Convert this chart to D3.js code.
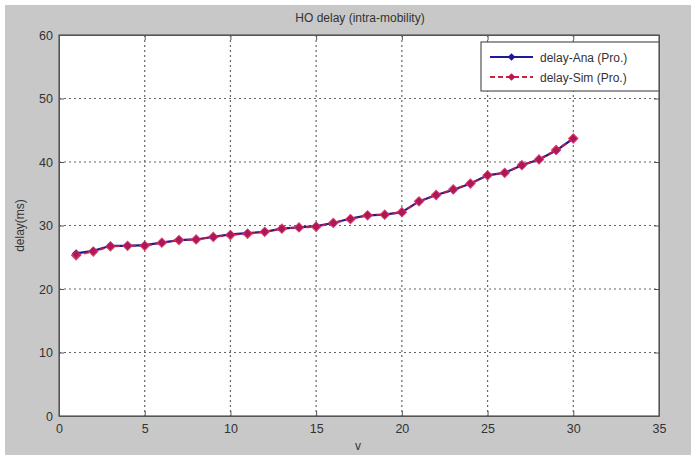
<!DOCTYPE html>
<html>
<head>
<meta charset="utf-8">
<script src="https://cdn.jsdelivr.net/npm/d3@7"></script>
<style>
  html, body { margin: 0; padding: 0; background: #ffffff; }
  svg { display: block; font-family: "Liberation Sans", Arial, sans-serif; }
</style>
</head>
<body>
<svg id="chart" width="691" height="455"></svg>
<script>
// Handover delay vs. velocity, analytical and simulated results
const velocity = [1,2,3,4,5,6,7,8,9,10,11,12,13,14,15,16,17,18,19,20,21,22,23,24,25,26,27,28,29,30];
const delayAna = [25.6,26.0,26.8,26.8,26.9,27.3,27.7,27.8,28.2,28.6,28.8,29.0,29.5,29.7,29.9,30.4,31.1,31.6,31.7,32.1,33.8,34.8,35.6,36.6,37.9,38.3,39.5,40.4,41.8,43.7];
const delaySim = [25.3,25.9,26.7,26.8,26.8,27.3,27.7,27.8,28.2,28.5,28.7,29.0,29.5,29.7,29.8,30.4,31.0,31.6,31.7,32.1,33.8,34.8,35.7,36.6,37.9,38.3,39.5,40.4,41.9,43.7];
const xTicks = [0,5,10,15,20,25,30,35];
const yTicks = [0,10,20,30,40,50,60];
const seriesNames = ["delay-Ana (Pro.)", "delay-Sim (Pro.)"];

const svg = d3.select("#chart");
const W = 691, H = 455;
const m = { left: 59, right: 32, top: 35, bottom: 39 };
const pw = W - m.left - m.right, ph = H - m.top - m.bottom;

// figure background
svg.append("rect").attr("x", 5).attr("y", 5).attr("width", W - 5).attr("height", H - 5).attr("fill", "#c8c8c8");

const x = d3.scaleLinear().domain([0, 35]).range([m.left, m.left + pw]);
const y = d3.scaleLinear().domain([0, 60]).range([m.top + ph, m.top]);

svg.append("rect").attr("x", m.left).attr("y", m.top).attr("width", pw).attr("height", ph).attr("fill", "#ffffff");

// grid
const grid = svg.append("g").attr("stroke", "#333").attr("stroke-width", 1.2).attr("stroke-dasharray", "2,3").attr("opacity", 0.75);
xTicks.slice(1, -1).forEach(t => grid.append("line").attr("x1", x(t)).attr("x2", x(t)).attr("y1", m.top).attr("y2", m.top + ph));
yTicks.slice(1, -1).forEach(t => grid.append("line").attr("y1", y(t)).attr("y2", y(t)).attr("x1", m.left).attr("x2", m.left + pw));

// axes with inward ticks
svg.append("g").attr("transform", `translate(0,${m.top + ph})`)
  .call(d3.axisBottom(x).tickValues(xTicks).tickSizeInner(-5).tickSizeOuter(0).tickPadding(8));
svg.append("g").attr("transform", `translate(${m.left},0)`)
  .call(d3.axisLeft(y).tickValues(yTicks).tickSizeInner(-5).tickSizeOuter(0).tickPadding(6));
svg.append("g").attr("transform", `translate(0,${m.top})`)
  .call(d3.axisTop(x).tickValues(xTicks).tickSizeInner(-5).tickSizeOuter(0).tickFormat(""));
svg.append("g").attr("transform", `translate(${m.left + pw},0)`)
  .call(d3.axisRight(y).tickValues(yTicks).tickSizeInner(-5).tickSizeOuter(0).tickFormat(""));
svg.selectAll(".domain, .tick line").attr("stroke", "#555");
svg.selectAll(".tick text").attr("fill", "#333").attr("font-size", 12.5).attr("font-family", "Liberation Sans, Arial, sans-serif");

svg.append("rect").attr("x", m.left).attr("y", m.top).attr("width", pw).attr("height", ph)
  .attr("fill", "none").attr("stroke", "#555").attr("stroke-width", 1.2);

// titles
svg.append("text").attr("x", 360).attr("y", 22).attr("text-anchor", "middle").attr("font-size", 12).attr("fill", "#333").text("HO delay (intra-mobility)");
svg.append("text").attr("x", 358).attr("y", 450).attr("text-anchor", "middle").attr("font-size", 12).attr("fill", "#333").text("v");
svg.append("text").attr("transform", `translate(24,${y(30)}) rotate(-90)`).attr("text-anchor", "middle").attr("font-size", 12).attr("fill", "#333").text("delay(ms)");

// diamond markers (rotated squares)
const marker = d3.symbol().type(d3.symbolSquare);
const line = d3.line().x((d, i) => x(velocity[i])).y(d => y(d));

// analytical series
svg.append("path").datum(delayAna).attr("d", line).attr("fill", "none").attr("stroke", "#1a1a9a").attr("stroke-width", 2.2);
svg.append("g").selectAll("path").data(delayAna).join("path")
  .attr("transform", (d, i) => `translate(${x(velocity[i])},${y(d)}) rotate(45)`)
  .attr("d", marker.size(36)).attr("fill", "#1a1a9a");

// simulated series
svg.append("path").datum(delaySim).attr("d", line).attr("fill", "none").attr("stroke", "#d0203a").attr("stroke-width", 2).attr("stroke-dasharray", "5,3").attr("opacity", 0.85);
svg.append("g").selectAll("path").data(delaySim).join("path")
  .attr("transform", (d, i) => `translate(${x(velocity[i])},${y(d)}) rotate(45)`)
  .attr("d", marker.size(44)).attr("fill", "#b81850").attr("stroke", "#e0306a").attr("stroke-width", 1).attr("opacity", 0.9);

// legend
const lg = svg.append("g").attr("transform", "translate(481,42)");
lg.append("rect").attr("width", 178).attr("height", 49).attr("fill", "#fff").attr("stroke", "#555").attr("stroke-width", 1.2);
const legendStyles = [
  { stroke: "#1a1a9a", dash: null, fill: "#1a1a9a" },
  { stroke: "#d0203a", dash: "5,3", fill: "#b81850" }
];
seriesNames.forEach((name, i) => {
  const yy = 15 + i * 20;
  lg.append("line").attr("x1", 9).attr("x2", 52).attr("y1", yy).attr("y2", yy)
    .attr("stroke", legendStyles[i].stroke).attr("stroke-width", 2).attr("stroke-dasharray", legendStyles[i].dash);
  lg.append("path").attr("transform", `translate(30.5,${yy}) rotate(45)`).attr("d", marker.size(30)).attr("fill", legendStyles[i].fill);
  lg.append("text").attr("x", 59).attr("y", yy + 4.5).attr("font-size", 12).attr("fill", "#333").text(name);
});
</script>
</body>
</html>
